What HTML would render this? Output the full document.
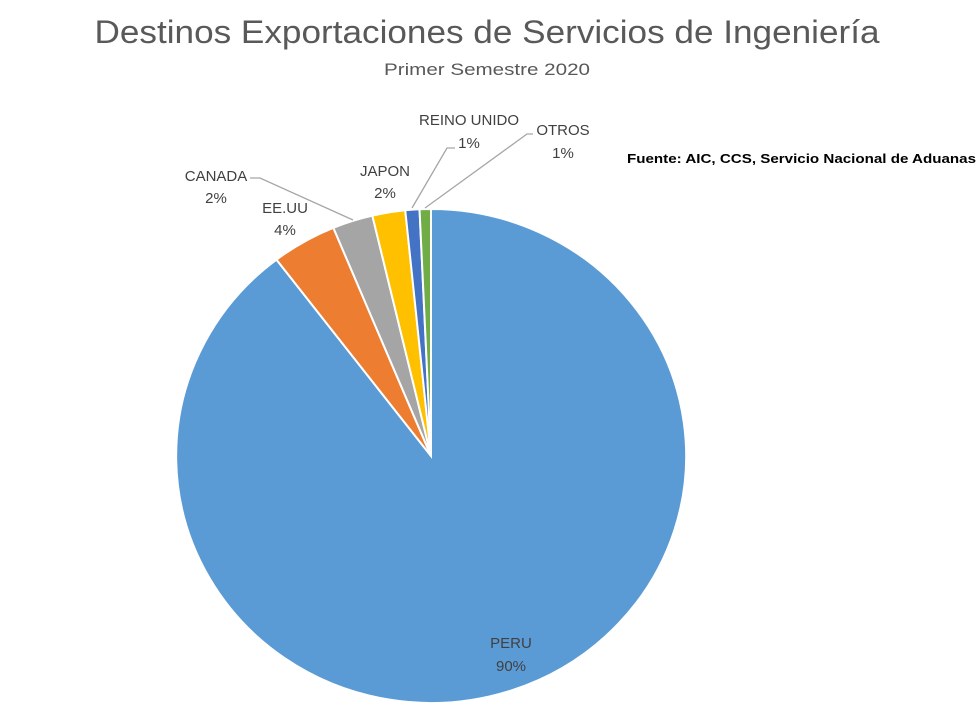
<!DOCTYPE html>
<html><head><meta charset="utf-8"><style>
body{margin:0;background:#fff;}
svg{display:block;font-family:"Liberation Sans",sans-serif;}
</style></head><body>
<svg width="978" height="715" viewBox="0 0 978 715">
<text x="487" y="43" text-anchor="middle" font-size="32" fill="#595959" textLength="785" lengthAdjust="spacingAndGlyphs">Destinos Exportaciones de Servicios de Ingeniería</text>
<text x="487" y="75" text-anchor="middle" font-size="17" fill="#595959" textLength="206" lengthAdjust="spacingAndGlyphs">Primer Semestre 2020</text>
<text x="976" y="163" text-anchor="end" font-size="13" font-weight="bold" fill="#000" textLength="349" lengthAdjust="spacingAndGlyphs">Fuente: AIC, CCS, Servicio Nacional de Aduanas</text>
<g transform="translate(431,456) scale(255,247)" stroke="#fff" stroke-width="2" vector-effect="non-scaling-stroke">
<path d="M0,0 L0,-1 A1,1 0 1,1 -0.606,-0.795 Z" fill="#5B9BD5" vector-effect="non-scaling-stroke"/>
<path d="M0,0 L-0.606,-0.795 A1,1 0 0,1 -0.383,-0.924 Z" fill="#ED7D31" vector-effect="non-scaling-stroke"/>
<path d="M0,0 L-0.383,-0.924 A1,1 0 0,1 -0.230,-0.973 Z" fill="#A5A5A5" vector-effect="non-scaling-stroke"/>
<path d="M0,0 L-0.230,-0.973 A1,1 0 0,1 -0.101,-0.995 Z" fill="#FFC000" vector-effect="non-scaling-stroke"/>
<path d="M0,0 L-0.101,-0.995 A1,1 0 0,1 -0.045,-0.999 Z" fill="#4472C4" vector-effect="non-scaling-stroke"/>
<path d="M0,0 L-0.045,-0.999 A1,1 0 0,1 0,-1 Z" fill="#70AD47" vector-effect="non-scaling-stroke"/>
</g>
<g stroke="#a6a6a6" stroke-width="1.3" fill="none">
<polyline points="250,178 260,178 353,220"/>
<polyline points="412,208 447,148 455,148"/>
<polyline points="425,208 527,134 533,134"/>
</g>
<g font-size="15" fill="#404040" text-anchor="middle">
<text x="216" y="181">CANADA</text><text x="216" y="203">2%</text>
<text x="285" y="213">EE.UU</text><text x="285" y="235">4%</text>
<text x="385" y="176">JAPON</text><text x="385" y="198">2%</text>
<text x="469" y="125">REINO UNIDO</text><text x="469" y="148">1%</text>
<text x="563" y="135">OTROS</text><text x="563" y="158">1%</text>
<text x="511" y="648">PERU</text><text x="511" y="671">90%</text>
</g>
</svg>
</body></html>
